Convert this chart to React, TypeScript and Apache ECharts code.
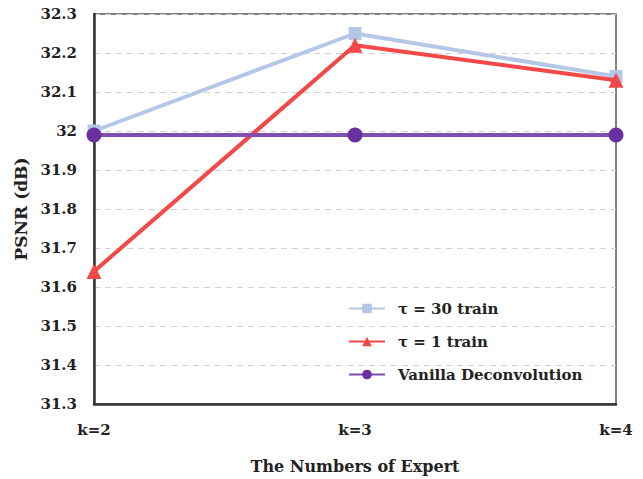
import React, { useEffect, useRef } from "react";
import * as echarts from "echarts";

const categories = ["k=2", "k=3", "k=4"];
const tau30 = [32.0, 32.25, 32.14];
const tau1 = [31.64, 32.22, 32.13];
const vanilla = [31.99, 31.99, 31.99];
const seriesNames = ["τ = 30 train", "τ = 1 train", "Vanilla Deconvolution"];

const FONT = "DejaVu Serif";

export default function App() {
  const ref = useRef<HTMLDivElement>(null);
  useEffect(() => {
    const chart = echarts.init(ref.current!, null, { renderer: "svg" });
    chart.setOption({
      animation: false,
      backgroundColor: "#fff",
      textStyle: { fontFamily: FONT },
      grid: {
        left: 94,
        right: 27,
        top: 14,
        bottom: 67,
        show: true,
        borderColor: "#555",
        borderWidth: 1.5,
      },
      legend: {
        orient: "vertical",
        left: 343,
        top: 296,
        itemGap: 18,
        itemWidth: 36,
        itemHeight: 12,
        textStyle: { fontFamily: FONT, fontWeight: "bold", fontSize: 15, color: "#222", padding: [0, 0, 0, 8] },
        data: seriesNames,
      },
      xAxis: {
        type: "category",
        data: categories,
        boundaryGap: false,
        name: "The Numbers of Expert",
        nameLocation: "middle",
        nameGap: 54,
        nameTextStyle: { fontFamily: FONT, fontWeight: "bold", fontSize: 16, color: "#222" },
        axisLine: { lineStyle: { color: "#333", width: 2.5 } },
        axisTick: { show: false },
        axisLabel: { fontFamily: FONT, fontWeight: "bold", fontSize: 15, color: "#222", margin: 18 },
        splitLine: { show: false },
      },
      yAxis: {
        type: "value",
        min: 31.3,
        max: 32.3,
        interval: 0.1,
        name: "PSNR (dB)",
        nameLocation: "middle",
        nameGap: 53,
        nameTextStyle: { fontFamily: FONT, fontWeight: "bold", fontSize: 17, color: "#222" },
        axisLine: { show: true, lineStyle: { color: "#333", width: 2.5 } },
        axisTick: { show: false },
        axisLabel: {
          fontFamily: FONT,
          fontWeight: "bold",
          fontSize: 15,
          color: "#222",
          margin: 17,
          formatter: (v: number) => String(Math.round(v * 10) / 10),
        },
        splitLine: { show: true, lineStyle: { color: "#d0d0d0", type: [6, 5], width: 1 } },
      },
      series: [
        {
          name: seriesNames[0],
          type: "line",
          data: tau30,
          symbol: "rect",
          symbolSize: 13,
          lineStyle: { color: "#b4c7e7", width: 4 },
          itemStyle: { color: "#b4c7e7" },
          z: 2,
        },
        {
          name: seriesNames[1],
          type: "line",
          data: tau1,
          symbol: "triangle",
          symbolSize: 15,
          lineStyle: { color: "#f24848", width: 4 },
          itemStyle: { color: "#f24848" },
          z: 3,
        },
        {
          name: seriesNames[2],
          type: "line",
          data: vanilla,
          symbol: "circle",
          symbolSize: 15,
          lineStyle: { color: "#7f4fb0", width: 4 },
          itemStyle: { color: "#6a2fa0" },
          z: 4,
        },
      ],
    });
    return () => chart.dispose();
  }, []);
  return (
    <div style={{ position: "fixed", left: 0, top: 0 }}>
      <div ref={ref} style={{ width: 643, height: 479 }} />
    </div>
  );
}
